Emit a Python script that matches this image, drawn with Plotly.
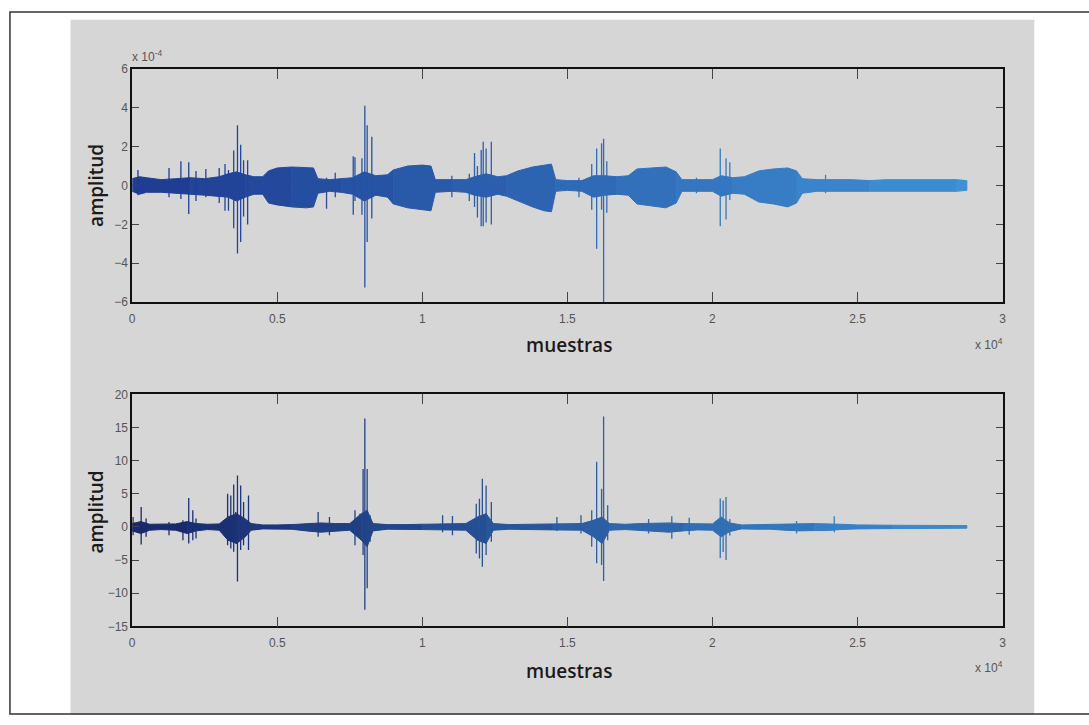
import plotly.graph_objects as go

# ---------------- data ----------------
# x in samples; top-plot amplitudes in units of 1e-4
top_env_x = [0, 250, 500, 1000, 1500, 2000, 2500, 3000, 3300, 3600, 3900, 4200, 4500, 4700,
             5000, 5500, 6000, 6250, 6400, 6800, 7200, 7600, 8000, 8400, 8800, 9000, 9500,
             10000, 10300, 10450, 11000, 11500, 11800, 12200, 12600, 12900, 13300, 13800,
             14200, 14450, 14600, 15000, 15500, 15900, 16300, 16700, 17100, 17400, 17900,
             18400, 18750, 18950, 19500, 20000, 20300, 20700, 21100, 21600, 22100, 22600,
             22900, 23100, 23600, 24200, 24800, 25400, 26000, 26600, 27200, 27800, 28400, 28770]
top_env_hi = [0.35, 0.45, 0.4, 0.3, 0.35, 0.4, 0.35, 0.45, 0.6, 0.7, 0.55, 0.45, 0.45, 0.75,
              0.9, 0.95, 0.9, 0.9, 0.35, 0.3, 0.35, 0.4, 0.7, 0.5, 0.55, 0.8, 1.0,
              1.05, 1.0, 0.3, 0.3, 0.3, 0.45, 0.6, 0.45, 0.5, 0.75, 0.95,
              1.05, 1.1, 0.3, 0.25, 0.25, 0.5, 0.5, 0.45, 0.5, 0.85, 0.9,
              0.95, 0.7, 0.3, 0.3, 0.3, 0.5, 0.4, 0.45, 0.75, 0.85, 0.9,
              0.75, 0.35, 0.3, 0.3, 0.3, 0.25, 0.3, 0.3, 0.3, 0.3, 0.3, 0.25]
top_env_lo = [-0.3, -0.45, -0.35, -0.35, -0.4, -0.45, -0.5, -0.55, -0.6, -0.8, -0.6, -0.45, -0.45, -0.9,
              -1.0, -1.1, -1.15, -1.1, -0.4, -0.3, -0.35, -0.45, -0.8, -0.5, -0.6, -0.95, -1.15,
              -1.25, -1.3, -0.35, -0.3, -0.35, -0.5, -0.6, -0.45, -0.55, -0.8, -1.1,
              -1.3, -1.35, -0.3, -0.25, -0.3, -0.6, -0.5, -0.45, -0.5, -0.95, -1.05,
              -1.15, -0.9, -0.3, -0.3, -0.3, -0.55, -0.4, -0.45, -0.85, -0.95, -1.1,
              -0.9, -0.4, -0.3, -0.3, -0.3, -0.3, -0.3, -0.3, -0.3, -0.3, -0.3, -0.25]

top_spk_x = [200, 1270, 1680, 1950, 2200, 2540, 3000, 3200, 3320, 3500, 3630, 3740, 3840, 3980,
             6700, 7000, 7620, 7680, 7920, 8020, 8100, 8260, 11020, 11620, 11800, 11900, 12030,
             12100, 12200, 12380, 15400, 15840, 16010, 16180, 16250, 16360, 19450, 20270,
             20470, 20600, 23900]
top_spk_hi = [0.8, 0.9, 1.25, 1.2, 0.75, 0.85, 0.9, 1.1, 0.8, 1.8, 3.1, 2.1, 1.3, 1.3,
              0.4, 0.65, 1.5, 1.45, 1.4, 4.1, 3.1, 2.5, 0.5, 0.6, 1.67, 1.0, 1.83,
              2.25, 1.9, 2.25, 0.4, 1.1, 1.9, 2.17, 2.4, 1.25, 0.4, 1.9,
              1.4, 1.2, 0.55]
top_spk_lo = [-0.5, -0.6, -0.7, -1.47, -0.8, -0.6, -0.9, -1.3, -1.3, -2.2, -3.5, -2.9, -1.6, -2.0,
              -1.2, -0.6, -1.5, -0.8, -1.5, -5.25, -2.9, -1.7, -0.6, -0.8, -1.1, -1.65, -2.1,
              -2.1, -1.9, -2.0, -0.6, -1.25, -3.25, -1.25, -6.0, -1.4, -0.4, -2.1,
              -1.75, -0.75, -0.4]

bot_env_x = [0, 300, 600, 1000, 1500, 1900, 2200, 2600, 3000, 3300, 3600, 3900, 4100, 4500,
             5000, 5500, 6000, 6500, 7000, 7500, 7900, 8100, 8300, 8800, 9500, 10000, 10500,
             11000, 11500, 11900, 12200, 12450, 13000, 13500, 14000, 14500, 15000, 15500,
             15900, 16200, 16450, 17000, 17500, 18000, 18500, 19000, 19500, 20000, 20300,
             20600, 21000, 21500, 22000, 22500, 23000, 23500, 24000, 24400, 25000, 25600,
             26200, 26800, 27400, 28000, 28770]
bot_env_hi = [0.5, 0.8, 0.4, 0.4, 0.45, 0.8, 0.5, 0.4, 0.45, 1.5, 2.0, 1.2, 0.5, 0.3,
              0.3, 0.35, 0.5, 0.6, 0.5, 0.5, 2.0, 2.5, 0.5, 0.35, 0.35, 0.4, 0.45,
              0.5, 0.5, 1.5, 2.0, 0.5, 0.35, 0.4, 0.4, 0.45, 0.45, 0.5,
              1.0, 1.5, 0.5, 0.4, 0.5, 0.6, 0.6, 0.5, 0.45, 0.45, 1.5,
              0.6, 0.3, 0.35, 0.35, 0.45, 0.5, 0.5, 0.5, 0.4, 0.3, 0.25,
              0.25, 0.25, 0.25, 0.25, 0.2]
bot_env_lo = [-0.6, -1.0, -0.5, -0.4, -0.5, -1.0, -0.6, -0.4, -0.5, -2.0, -2.5, -1.5, -0.5, -0.3,
              -0.3, -0.35, -0.6, -0.8, -0.6, -0.5, -2.0, -3.0, -0.6, -0.35, -0.35, -0.4, -0.4,
              -0.5, -0.5, -2.0, -2.5, -0.5, -0.35, -0.4, -0.4, -0.45, -0.45, -0.5,
              -1.5, -2.5, -0.5, -0.4, -0.5, -0.7, -0.8, -0.6, -0.45, -0.5, -1.5,
              -0.7, -0.3, -0.35, -0.35, -0.5, -0.6, -0.55, -0.55, -0.4, -0.3, -0.25,
              -0.25, -0.25, -0.25, -0.25, -0.2]

bot_spk_x = [30, 310, 480, 1270, 1750, 1950, 2090, 2200, 3290, 3400, 3500, 3570, 3630, 3740,
             3840, 4010, 6410, 6800, 7680, 7850, 7960, 8020, 8100, 8200, 10700, 11040, 11860,
             11970, 12070, 12200, 12380, 14640, 15470, 15840, 16010, 16180, 16250, 16390,
             17800, 18600, 19200, 20270, 20370, 20470, 20600, 22900, 24200]
bot_spk_hi = [1.5, 3.0, 1.25, 0.75, 1.0, 4.35, 2.5, 1.25, 5.0, 4.75, 6.4, 2.25, 7.75, 6.25,
              3.75, 4.75, 2.25, 1.5, 2.5, 2.0, 8.75, 16.35, 8.75, 1.75, 1.75, 1.65, 3.5,
              4.25, 7.25, 6.25, 3.75, 1.5, 1.75, 2.5, 9.85, 5.75, 16.65, 3.25,
              1.2, 1.6, 1.4, 4.3, 4.0, 4.5, 1.2, 0.9, 1.6]
bot_spk_lo = [-1.25, -2.65, -1.5, -1.25, -2.0, -2.5, -2.0, -1.75, -2.75, -3.25, -3.75, -2.5, -8.25, -3.5,
              -2.75, -3.5, -1.5, -1.25, -2.75, -1.75, -4.25, -12.5, -9.25, -2.25, -0.8, -1.25, -4.0,
              -4.75, -6.0, -4.25, -2.25, -0.6, -1.0, -3.0, -5.5, -5.75, -8.15, -2.0,
              -1.0, -1.8, -1.2, -4.7, -3.8, -5.0, -1.3, -1.0, -0.8]

x_tickvals = [0, 5000, 10000, 15000, 20000, 25000, 30000]
x_ticktext = ["0", "0.5", "1", "1.5", "2", "2.5", "3"]
top_yticks = [-6, -4, -2, 0, 2, 4, 6]
bot_yticks = [-15, -10, -5, 0, 5, 10, 15, 20]

# ---------------- figure ----------------
W, H = 1089, 725
X_END = 28770.0


def pxx(p):
    return p / W


def pxy(p):
    return 1 - p / H


def blend(c0, c1, t):
    t = max(0.0, min(1.0, t))
    r, g, b = (int(round(a + (bb - a) * t)) for a, bb in zip(c0, c1))
    return f"rgb({r},{g},{b})"


TOP_C0, TOP_C1 = (30, 58, 145), (62, 146, 214)
BOT_C0, BOT_C1 = (24, 38, 105), (60, 142, 212)

fig = go.Figure()


def add_wave(xs, hi, lo, sx, shi, slo, xa, ya, c0, c1, chunk=5):
    n = len(xs)
    i = 0
    while i < n - 1:
        j = min(i + chunk, n - 1)
        seg_x = xs[i:j + 1]
        seg_hi = hi[i:j + 1]
        seg_lo = lo[i:j + 1]
        col = blend(c0, c1, (xs[i] + xs[j]) / 2 / X_END)
        fig.add_trace(go.Scatter(
            x=seg_x + seg_x[::-1], y=seg_hi + seg_lo[::-1],
            fill="toself", fillcolor=col, mode="lines",
            line=dict(color=col, width=1), xaxis=xa, yaxis=ya,
            hoverinfo="skip", showlegend=False))
        i = j
    for x, h, l in zip(sx, shi, slo):
        col = blend(c0, c1, x / X_END)
        fig.add_trace(go.Scatter(
            x=[x, x], y=[l, h], mode="lines",
            line=dict(color=col, width=1.3), xaxis=xa, yaxis=ya,
            hoverinfo="skip", showlegend=False))


add_wave(top_env_x, top_env_hi, top_env_lo, top_spk_x, top_spk_hi, top_spk_lo,
         "x", "y", TOP_C0, TOP_C1)
add_wave(bot_env_x, bot_env_hi, bot_env_lo, bot_spk_x, bot_spk_hi, bot_spk_lo,
         "x2", "y2", BOT_C0, BOT_C1)

tickfont = dict(family="Liberation Sans Narrow, Arial Narrow, sans-serif", size=12, color="#555")
axis_common = dict(showline=True, linecolor="#111", linewidth=1.5, mirror="ticks",
                   ticks="inside", tickcolor="#444", showgrid=False, zeroline=False,
                   tickfont=tickfont, fixedrange=True)

xdom = [pxx(130), pxx(1006)]
fig.update_layout(
    width=W, height=H,
    margin=dict(l=0, r=0, t=0, b=0),
    paper_bgcolor="white", plot_bgcolor="white",
    xaxis=dict(domain=xdom, range=[0, 30000], tickvals=x_tickvals, ticktext=x_ticktext,
               ticklen=10, anchor="y", ticklabelstandoff=5, **axis_common),
    yaxis=dict(domain=[pxy(301), pxy(63)], range=[-6, 6], tickvals=top_yticks,
               ticklen=7, anchor="x", **axis_common),
    xaxis2=dict(domain=xdom, range=[0, 30000], tickvals=x_tickvals, ticktext=x_ticktext,
                ticklen=10, anchor="y2", ticklabelstandoff=5, **axis_common),
    yaxis2=dict(domain=[pxy(631.5), pxy(395)], range=[-15, 20], tickvals=bot_yticks,
                ticklen=7, anchor="x2", **axis_common),
    shapes=[
        dict(type="rect", xref="paper", yref="paper", x0=pxx(68), x1=pxx(1038),
             y0=pxy(722), y1=pxy(13), fillcolor="#d6d6d6", line=dict(width=0), layer="below"),
        dict(type="rect", xref="paper", yref="paper", x0=pxx(7), x1=pxx(1094),
             y0=pxy(721), y1=pxy(5), fillcolor="rgba(0,0,0,0)",
             line=dict(color="#333", width=1.5), layer="above"),
    ],
)

title_font = dict(family="Open Sans, Lato, sans-serif", size=19, color="#1a1a1a", weight=600)
small = dict(family="Liberation Sans Narrow, Arial Narrow, sans-serif", size=12, color="#555")
annots = [
    dict(text="amplitud", x=pxx(94), y=pxy(182), textangle=-90, font=title_font),
    dict(text="amplitud", x=pxx(94), y=pxy(515), textangle=-90, font=title_font),
    dict(text="muestras", x=pxx(570), y=pxy(345), font=title_font),
    dict(text="muestras", x=pxx(570), y=pxy(677), font=title_font),
    dict(text="x 10<sup>-4</sup>", x=pxx(128), y=pxy(50), xanchor="left", font=small),
    dict(text="x 10<sup>4</sup>", x=pxx(992), y=pxy(344), font=small),
    dict(text="x 10<sup>4</sup>", x=pxx(992), y=pxy(673), font=small),
]
for a in annots:
    a.update(xref="paper", yref="paper", showarrow=False)
    a.setdefault("xanchor", "center")
    a.setdefault("yanchor", "middle")
fig.update_layout(annotations=annots)

fig.write_html(
    "out.html",
    config={"displayModeBar": False},
    post_script="document.body.style.margin='0';document.body.style.overflow='hidden';",
)
